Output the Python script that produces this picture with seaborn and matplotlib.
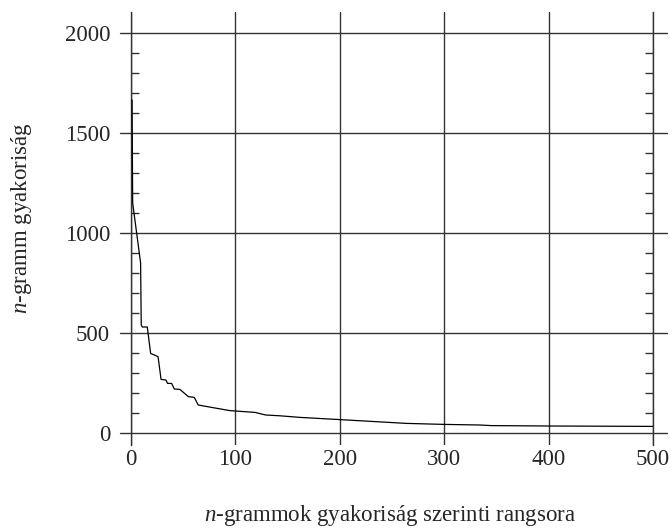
import matplotlib
matplotlib.use("Agg")
import matplotlib.pyplot as plt
import seaborn as sns
import numpy as np
import pandas as pd
from matplotlib.ticker import FixedLocator

# ---- data ----
rank = [1, 1.6, 9.2, 9.8, 10.8, 15.6, 18.8, 25.9, 28.8, 33.5, 35, 38.9, 41.5, 46.8,
        54.9, 60.6, 64.4, 77.2, 94.7, 118.8, 129, 142.7, 162, 200, 264, 300, 334,
        345, 400, 450, 500]
freq = [1665, 1150, 850, 540, 530, 530, 398, 382, 268, 265, 248, 248, 220, 218,
        182, 178, 140, 128, 112, 103, 90, 86, 78, 67, 48, 43, 40, 37, 35, 34, 33]
xticks = [0, 100, 200, 300, 400, 500]
yticks = [0, 500, 1000, 1500, 2000]
yminor = [v for v in range(100, 2000, 100) if v % 500 != 0]
xlabel = r"$n$-grammok gyakoriság szerinti rangsora"
ylabel = r"$n$-gramm gyakoriság"

sns.set_style("white")
plt.rcParams["font.family"] = ["Liberation Serif", "DejaVu Serif"]
plt.rcParams["mathtext.fontset"] = "custom"
plt.rcParams["mathtext.rm"] = "Liberation Serif"
plt.rcParams["mathtext.it"] = "Liberation Serif:italic"

W, H = 672, 528
fig = plt.figure(figsize=(W / 100, H / 100), dpi=100)
L, R, T, B = 131, 653, 12, 445
ax = fig.add_axes([L / W, 1 - B / H, (R - L) / W, (B - T) / H])

df = pd.DataFrame({"rank": rank, "freq": freq})
sns.lineplot(data=df, x="rank", y="freq", ax=ax, color="black", lw=0.9,
             estimator=None, sort=False, zorder=5)

ax.set_xlim(0, 500)
ax.set_ylim(-60, 2105)

gc = "#333333"
for x in xticks:
    ax.axvline(x, color=gc, lw=1.0, zorder=1)
for y in yticks:
    ax.axhline(y, xmin=-11 / (R - L), xmax=1 + 14 / (R - L), color=gc, lw=1.0,
               clip_on=False, zorder=1)

for s in ["top", "bottom"]:
    ax.spines[s].set_visible(False)
for s in ["left", "right"]:
    ax.spines[s].set_color(gc)
    ax.spines[s].set_linewidth(1.0)

ax.set_xticks(xticks)
ax.set_yticks(yticks)
ax.yaxis.set_minor_locator(FixedLocator(yminor))
ax.tick_params(axis="both", which="major", length=0, labelsize=16.5)
ax.tick_params(axis="y", which="major", pad=15)
ax.tick_params(axis="x", which="major", pad=3)
ax.tick_params(axis="y", which="minor", direction="in", length=6, width=1.0,
               color=gc, left=True, right=True)

ax.set_xlabel(xlabel, fontsize=16.5)
ax.set_ylabel(ylabel, fontsize=16.5)
ax.xaxis.label.set_va("center")
ax.yaxis.label.set_va("center")
ax.xaxis.set_label_coords((390 - L) / (R - L), (B - 515) / (B - T))
ax.yaxis.set_label_coords((22 - L) / (R - L), (B - 218) / (B - T))

fig.savefig("out.png", dpi=100)
